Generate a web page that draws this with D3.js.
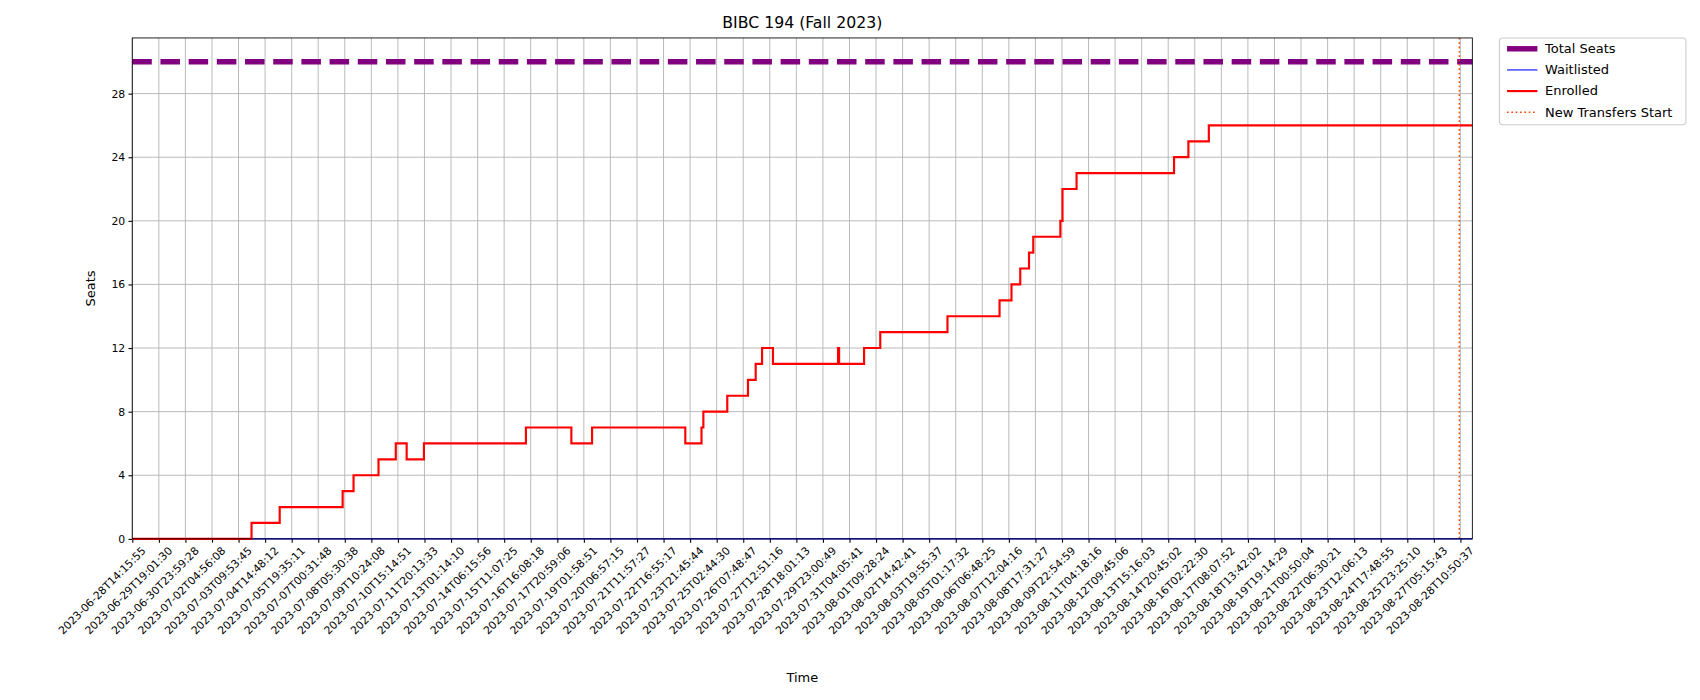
<!DOCTYPE html>
<html><head><meta charset="utf-8">
<script src="https://cdn.jsdelivr.net/npm/d3@7"></script>
<style>body{margin:0;background:#fff;font-family:"DejaVu Sans",sans-serif}</style>
</head><body><svg id="c" width="1700" height="700"></svg>
<script>
const tickLabels = ["2023-06-28T14:15:55","2023-06-29T19:01:30","2023-06-30T23:59:28","2023-07-02T04:56:08","2023-07-03T09:53:45","2023-07-04T14:48:12","2023-07-05T19:35:11","2023-07-07T00:31:48","2023-07-08T05:30:38","2023-07-09T10:24:08","2023-07-10T15:14:51","2023-07-11T20:13:33","2023-07-13T01:14:10","2023-07-14T06:15:56","2023-07-15T11:07:25","2023-07-16T16:08:18","2023-07-17T20:59:06","2023-07-19T01:58:51","2023-07-20T06:57:15","2023-07-21T11:57:27","2023-07-22T16:55:17","2023-07-23T21:45:44","2023-07-25T02:44:30","2023-07-26T07:48:47","2023-07-27T12:51:16","2023-07-28T18:01:13","2023-07-29T23:00:49","2023-07-31T04:05:41","2023-08-01T09:28:24","2023-08-02T14:42:41","2023-08-03T19:55:37","2023-08-05T01:17:32","2023-08-06T06:48:25","2023-08-07T12:04:16","2023-08-08T17:31:27","2023-08-09T22:54:59","2023-08-11T04:18:16","2023-08-12T09:45:06","2023-08-13T15:16:03","2023-08-14T20:45:02","2023-08-16T02:22:30","2023-08-17T08:07:52","2023-08-18T13:42:02","2023-08-19T19:14:29","2023-08-21T00:50:04","2023-08-22T06:30:21","2023-08-23T12:06:13","2023-08-24T17:48:55","2023-08-25T23:25:10","2023-08-27T05:15:43","2023-08-28T10:50:37"];
// enrolled step changes: position (in tick-index units) and new value
const enrolledPos = [0,4.49,5.55,7.92,8.33,9.27,9.92,10.33,10.98,14.82,16.53,17.31,20.82,21.43,21.5,22.4,23.18,23.47,23.71,24.12,26.57,26.61,27.55,28.16,30.69,32.65,33.1,33.43,33.76,33.92,34.94,35.02,35.55,39.22,39.76,40.53,50.45];
const enrolledVal = [0,1,2,3,4,5,6,5,6,7,6,7,6,7,8,9,10,11,12,11,12,11,12,13,14,15,16,17,18,19,20,22,23,24,25,26,26];
const waitlistVal = 0;
const totalSeats = 30;
const xMax = 50.45;
const transferStart = 49.96;
const yTicks = [0,4,8,12,16,20,24,28];

const svg0 = d3.select("#c");
const svg = svg0.append("g").attr("transform","scale(1.0842)");
const L=122,R=1358,T=35,B=497;
const x = d3.scaleLinear().domain([0,xMax]).range([L,R]);
const y = d3.scaleLinear().domain([0,31.5]).range([B,T]);

const g = svg.append("g");
g.selectAll(".vg").data(tickLabels).enter().append("line")
 .attr("x1",(d,i)=>x(i)).attr("x2",(d,i)=>x(i)).attr("y1",T).attr("y2",B).attr("stroke","#b0b0b0").attr("stroke-width",0.8);
g.selectAll(".hg").data(yTicks).enter().append("line")
 .attr("x1",L).attr("x2",R).attr("y1",d=>y(d)).attr("y2",d=>y(d)).attr("stroke","#b0b0b0").attr("stroke-width",0.8);

const xa = svg.append("g").attr("transform",`translate(0,${B})`)
 .call(d3.axisBottom(x).tickValues(d3.range(tickLabels.length)).tickFormat(i=>tickLabels[i]).tickSizeOuter(0).tickSize(3.5));
xa.selectAll("text").attr("text-anchor","end").attr("transform","translate(3,2) rotate(-45)").attr("dx",0).attr("dy","0.71em")
 .style("font-size","10px").style("font-family","DejaVu Sans").attr("fill","#000");
xa.select(".domain").remove();
const ya = svg.append("g").attr("transform",`translate(${L},0)`)
 .call(d3.axisLeft(y).tickValues(yTicks).tickSizeOuter(0).tickSize(3.5));
ya.selectAll("text").style("font-size","10px").style("font-family","DejaVu Sans").attr("fill","#000");
ya.select(".domain").remove();

svg.append("line").attr("x1",x(0)).attr("x2",x(xMax)).attr("y1",y(totalSeats)).attr("y2",y(totalSeats))
 .attr("stroke","#800080").attr("stroke-width",5).attr("stroke-dasharray","18,8");
svg.append("line").attr("x1",x(0)).attr("x2",x(xMax)).attr("y1",y(waitlistVal)).attr("y2",y(waitlistVal))
 .attr("stroke","#0000ff").attr("stroke-width",1);
const pts = enrolledPos.map((p,i)=>[p,enrolledVal[i]]);
svg.append("path").datum(pts).attr("fill","none").attr("stroke","#ff0000").attr("stroke-width",2)
 .attr("d",d3.line().x(d=>x(d[0])).y(d=>y(d[1])).curve(d3.curveStepAfter));
svg.append("line").attr("x1",x(transferStart)).attr("x2",x(transferStart)).attr("y1",T).attr("y2",B)
 .attr("stroke","#ff4500").attr("stroke-width",1.3).attr("stroke-dasharray","1.5,2.5");

svg.append("rect").attr("x",L).attr("y",T).attr("width",R-L).attr("height",B-T).attr("fill","none").attr("stroke","#000").attr("stroke-width",0.8);

svg.append("text").attr("x",(L+R)/2).attr("y",26).attr("text-anchor","middle").style("font-size","14.5px").text("BIBC 194 (Fall 2023)");
svg.append("text").attr("x",(L+R)/2).attr("y",629).attr("text-anchor","middle").style("font-size","12px").text("Time");
svg.append("text").attr("transform",`translate(88,${(T+B)/2}) rotate(-90)`).attr("text-anchor","middle").style("font-size","12px").text("Seats");

const lg = svg.append("g").attr("transform","translate(1383,35)");
lg.append("rect").attr("width",172).attr("height",80).attr("rx",3).attr("fill","#fff").attr("stroke","#ccc");
const items=[["Total Seats","#800080",5,"none"],["Waitlisted","#0000ff",1,"none"],["Enrolled","#ff0000",2,"none"],["New Transfers Start","#ff4500",1.3,"1.5,2.5"]];
items.forEach((it,i)=>{
 const yy=10+i*19.5;
 lg.append("line").attr("x1",7).attr("x2",35).attr("y1",yy).attr("y2",yy).attr("stroke",it[1]).attr("stroke-width",it[2]).attr("stroke-dasharray",it[3]);
 lg.append("text").attr("x",42).attr("y",yy+4).style("font-size","12px").text(it[0]);
});
</script></body></html>
